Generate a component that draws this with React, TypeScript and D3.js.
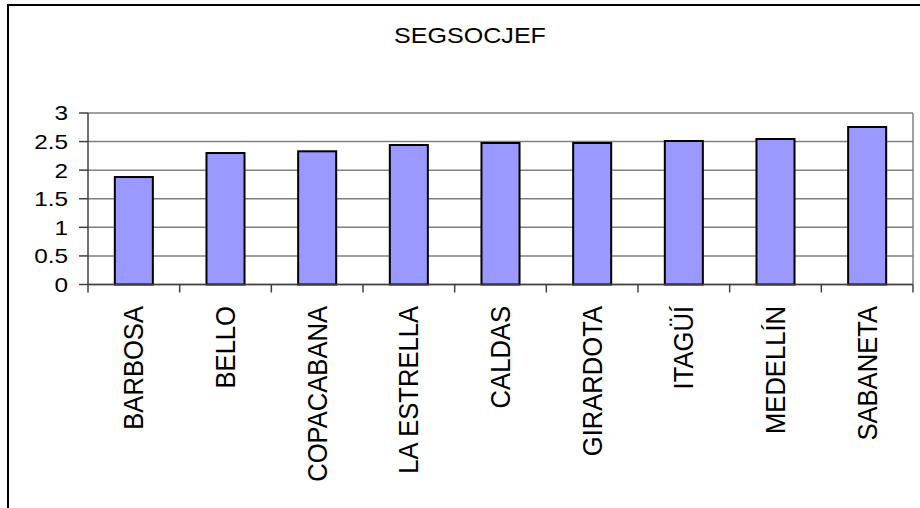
import React from "react";
import * as d3 from "d3";

const categories = [
  "BARBOSA",
  "BELLO",
  "COPACABANA",
  "LA ESTRELLA",
  "CALDAS",
  "GIRARDOTA",
  "ITAGÜÍ",
  "MEDELLÍN",
  "SABANETA",
];
const values = [1.88, 2.3, 2.33, 2.44, 2.475, 2.475, 2.51, 2.545, 2.755];
const yTicks = [0, 0.5, 1, 1.5, 2, 2.5, 3];
const title = "SEGSOCJEF";

const W = 920;
const H = 508;
const plot = { left: 88, right: 913, top: 113, bottom: 284.5 };
const font = "'Liberation Sans', Arial, sans-serif";

export default function App() {
  const x = d3
    .scaleBand<string>()
    .domain(categories)
    .range([plot.left, plot.right])
    .paddingInner(0.585)
    .paddingOuter(0.2925);
  const y = d3.scaleLinear().domain([0, 3]).range([plot.bottom, plot.top]);
  const step = (plot.right - plot.left) / categories.length;
  const boundaries = d3.range(categories.length + 1).map((i) => plot.left + i * step);

  return (
    <svg
      width={W}
      height={H}
      style={{ position: "absolute", left: 0, top: 0, background: "#fff" }}
    >
      {/* outer chart frame */}
      <rect x={8} y={5} width={W + 20} height={H + 20} fill="#fff" stroke="#000" strokeWidth={2} />

      {/* title */}
      <text
        transform={`translate(470, 43) scale(1.14, 1)`}
        textAnchor="middle"
        fontFamily={font}
        fontSize={22}
        fill="#000"
      >
        {title}
      </text>

      {/* gridlines */}
      {yTicks.map((t) => (
        <line
          key={`g${t}`}
          x1={plot.left}
          x2={plot.right}
          y1={y(t)}
          y2={y(t)}
          stroke="#808080"
          strokeWidth={1.5}
        />
      ))}
      {/* plot area right border */}
      <line x1={plot.right} x2={plot.right} y1={plot.top} y2={plot.bottom} stroke="#808080" strokeWidth={1.5} />

      {/* bars */}
      {categories.map((c, i) => (
        <rect
          key={c}
          x={x(c)}
          y={y(values[i])}
          width={x.bandwidth()}
          height={plot.bottom - y(values[i])}
          fill="#9999FF"
          stroke="#000"
          strokeWidth={2}
        />
      ))}

      {/* y axis */}
      <line x1={plot.left} x2={plot.left} y1={plot.top} y2={plot.bottom} stroke="#404040" strokeWidth={1.5} />
      {yTicks.map((t) => (
        <g key={`y${t}`}>
          <line x1={plot.left - 9} x2={plot.left} y1={y(t)} y2={y(t)} stroke="#404040" strokeWidth={1.5} />
          <text
            transform={`translate(68, ${y(t)}) scale(1.16, 1)`}
            textAnchor="end"
            dominantBaseline="central"
            fontFamily={font}
            fontSize={21}
            fill="#000"
          >
            {String(t)}
          </text>
        </g>
      ))}

      {/* x axis */}
      <line x1={plot.left} x2={plot.right} y1={plot.bottom} y2={plot.bottom} stroke="#404040" strokeWidth={1.5} />
      {boundaries.map((bx, i) => (
        <line key={`t${i}`} x1={bx} x2={bx} y1={plot.bottom} y2={plot.bottom + 8} stroke="#404040" strokeWidth={1.5} />
      ))}
      {categories.map((c) => (
        <text
          key={`l${c}`}
          transform={`translate(${(x(c) as number) + x.bandwidth() / 2}, 306) rotate(-90) scale(1, 1.09)`}
          textAnchor="end"
          dominantBaseline="central"
          fontFamily={font}
          fontSize={25.6}
          fill="#000"
        >
          {c}
        </text>
      ))}
    </svg>
  );
}
